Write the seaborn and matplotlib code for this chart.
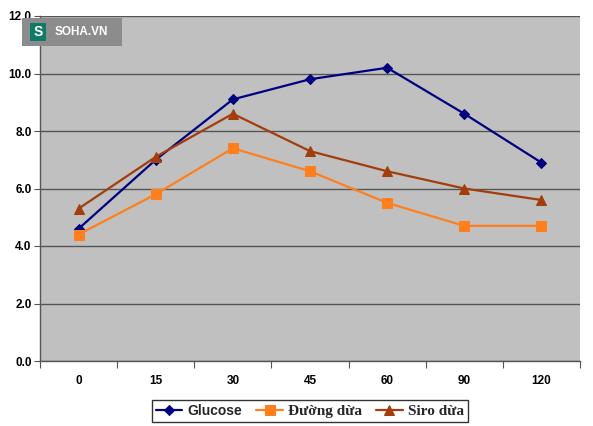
import numpy as np
import pandas as pd
import matplotlib
matplotlib.use("Agg")
import matplotlib.pyplot as plt
import seaborn as sns
from matplotlib.patches import Rectangle

# Data
minutes = ["0", "15", "30", "45", "60", "90", "120"]
glucose = [4.6, 7.0, 9.1, 9.8, 10.2, 8.6, 6.9]
duong_dua = [4.4, 5.8, 7.4, 6.6, 5.5, 4.7, 4.7]
siro_dua = [5.3, 7.1, 8.6, 7.3, 6.6, 6.0, 5.6]
series_names = ["Glucose", "Đường dừa", "Siro dừa"]

rows = []
for name, vals in zip(series_names, [glucose, duong_dua, siro_dua]):
    for i, v in enumerate(vals):
        rows.append({"pos": i, "value": v, "series": name})
df = pd.DataFrame(rows)

sns.set_theme(style="white")
plt.rcParams["font.family"] = ["Liberation Sans", "DejaVu Sans"]

W, H = 593, 426
fig = plt.figure(figsize=(W / 100, H / 100), dpi=100)
fig.patch.set_facecolor("white")
ax = fig.add_axes([40 / W, 1 - 361 / H, 540 / W, 345 / H])
ax.set_facecolor("#c0c0c0")

palette = {"Glucose": "#000080", "Đường dừa": "#ff7f1e", "Siro dừa": "#a33d0c"}
markers = {"Glucose": "D", "Đường dừa": "s", "Siro dừa": "^"}
sizes = {"Glucose": 5.5, "Đường dừa": 7, "Siro dừa": 7.5}

for name in series_names:
    sub = df[df["series"] == name]
    sns.lineplot(data=sub, x="pos", y="value", ax=ax, color=palette[name],
                 marker=markers[name], markersize=sizes[name], linewidth=1.6,
                 markeredgecolor=palette[name], label=name, legend=False)

ax.set_xlim(-0.5, 6.5)
ax.set_ylim(0, 12)
ax.set_yticks(np.arange(0, 12.1, 2))
ax.set_yticklabels([f"{v:.1f}" for v in np.arange(0, 12.1, 2)],
                   fontsize=8.5, fontweight="bold")
ax.set_xticks(range(len(minutes)))
ax.set_xticklabels(minutes, fontsize=8.5, fontweight="bold")
ax.set_xticks(np.arange(-0.5, 6.6, 1), minor=True)
ax.tick_params(axis="x", which="major", length=0, pad=10, colors="black")
ax.tick_params(axis="x", which="minor", length=5, width=0.8, color="#555555",
               direction="out", bottom=True)
ax.tick_params(axis="y", length=4, width=0.8, color="#555555", direction="out",
               left=True, pad=2)
for lbl in ax.get_yticklabels() + ax.get_xticklabels():
    lbl.set_color("black")

ax.yaxis.grid(True, color="#555555", linewidth=1.0)
ax.set_axisbelow(True)
for side in ["top", "right"]:
    ax.spines[side].set_visible(False)
ax.spines["left"].set_color("#555555")
ax.spines["bottom"].set_color("#555555")
ax.spines["left"].set_linewidth(1.0)
ax.spines["bottom"].set_linewidth(1.0)
ax.set_xlabel("")
ax.set_ylabel("")

# Legend at bottom
handles, labels = ax.get_legend_handles_labels()
leg = fig.legend(handles, labels, loc="center", ncol=3,
                 bbox_to_anchor=(310 / W, 1 - 411 / H), frameon=True,
                 fancybox=False, edgecolor="black", fontsize=10,
                 handlelength=1.9, handletextpad=0.4, columnspacing=1.0,
                 borderpad=0.3)
leg.get_frame().set_linewidth(1.0)
texts = leg.get_texts()
texts[0].set_fontfamily(["Liberation Sans", "DejaVu Sans"])
texts[0].set_fontweight("bold")
for t in texts[1:]:
    t.set_fontfamily(["Liberation Serif", "DejaVu Serif"])
    t.set_fontweight("bold")
    t.set_fontsize(11)

# SOHA.VN watermark
fig.patches.append(Rectangle((22 / W, 1 - 46 / H), 100 / W, 28 / H,
                             transform=fig.transFigure, facecolor="#8c8c8c",
                             edgecolor="none", zorder=5))
fig.patches.append(Rectangle((30 / W, 1 - 41 / H), 16 / W, 18 / H,
                             transform=fig.transFigure, facecolor="#0e7a67",
                             edgecolor="none", zorder=6))
fig.text(38 / W, 1 - 32 / H, "S", color="white", fontsize=10,
         fontweight="bold", ha="center", va="center", zorder=7)
fig.text(55 / W, 1 - 32 / H, "SOHA.VN", color="white", fontsize=8.5,
         fontweight="bold", ha="left", va="center", zorder=7)

fig.savefig("out.png", dpi=100)
